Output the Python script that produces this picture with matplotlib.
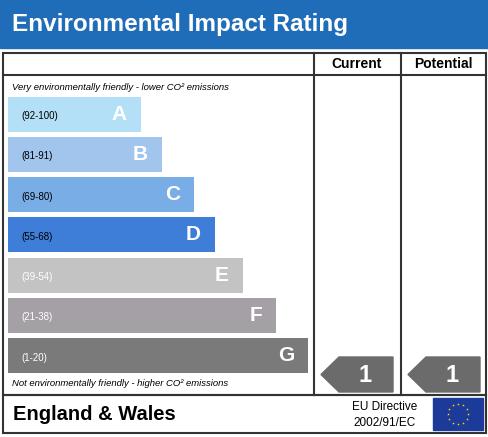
import matplotlib
matplotlib.use("Agg")
import matplotlib.pyplot as plt
from matplotlib.patches import Rectangle, Polygon
import numpy as np

bands = ["A", "B", "C", "D", "E", "F", "G"]
ranges = ["(92-100)", "(81-91)", "(69-80)", "(55-68)", "(39-54)", "(21-38)", "(1-20)"]
bar_lengths = [133, 154, 186, 207, 235, 268, 300]
colors = ["#b3e0f7", "#a2c5ee", "#79ade6", "#3e7ed8", "#c3c3c3", "#a59fa6", "#7a7a7a"]
current = 1
potential = 1

fig = plt.figure(figsize=(4.89, 4.37), dpi=100)
ax = fig.add_axes([0, 0, 1, 1])
ax.set_xlim(0, 489); ax.set_ylim(437, 0); ax.axis("off")

ax.add_patch(Rectangle((0, 0), 489, 48, color="#1f6cb8"))
ax.text(12, 24, "Environmental Impact Rating", color="white", fontsize=17.5, fontweight="bold", va="center", family="Liberation Sans")

lw = 1.5
ax.add_patch(Rectangle((3, 53), 483, 342, fill=False, ec="#333", lw=lw))
ax.plot([3, 486], [75, 75], color="#333", lw=lw)
for x in (314, 401):
    ax.plot([x, x], [53, 395], color="#333", lw=lw)
ax.text(357, 64, "Current", ha="center", va="center", fontsize=10, fontweight="bold", family="Liberation Sans")
ax.text(443, 64, "Potential", ha="center", va="center", fontsize=10, fontweight="bold", family="Liberation Sans")
ax.text(12, 88, "Very environmentally friendly - lower CO² emissions", fontsize=6.8, style="italic", va="center", family="Liberation Sans")
ax.text(12, 383, "Not environmentally friendly - higher CO² emissions", fontsize=6.8, style="italic", va="center", family="Liberation Sans")

ys = [97 + i * 40.3 for i in range(7)]
ax.barh([y + 17 for y in ys], bar_lengths, height=35, left=8, color=colors)
for i, (b, r) in enumerate(zip(bands, ranges)):
    yc = ys[i] + 17
    tc = "white" if i >= 4 else "black"
    ax.text(21, yc + 2, r, fontsize=7, va="center", color=tc, family="Liberation Sans")
    ax.text(8 + bar_lengths[i] - 14, yc, b, fontsize=15, fontweight="bold", ha="right", va="center",
            color="white", family="Liberation Sans")

def arrow(x0, x1, val):
    y0, y1 = 357, 392
    ym = (y0 + y1) / 2
    ax.add_patch(Polygon([[x0, ym], [x0 + 18, y0], [x1, y0], [x1, y1], [x0 + 18, y1]], color="#6b6b6b"))
    ax.text((x0 + x1) / 2 + 8, ym + 1, str(val), color="white", fontsize=17, fontweight="bold",
            ha="center", va="center", family="Liberation Sans")
arrow(321, 393, current)
arrow(408, 480, potential)

ax.add_patch(Rectangle((3, 395), 483, 38, fill=False, ec="#333", lw=lw))
ax.text(13, 415, "England & Wales", fontsize=14.5, fontweight="bold", va="center", family="Liberation Sans")
ax.text(385, 407, "EU Directive", fontsize=8.5, ha="center", va="center", family="Liberation Sans")
ax.text(385, 423, "2002/91/EC", fontsize=8.5, ha="center", va="center", family="Liberation Sans")
ax.add_patch(Rectangle((433, 398), 50, 32, color="#1b3a9a"))
t = np.linspace(0, 2 * np.pi, 13)[:-1]
ax.scatter(458 + 10 * np.cos(t), 414 + 10 * np.sin(t), marker="*", s=4, color="#ffdd00", lw=0)

fig.savefig("out.png", dpi=100)
